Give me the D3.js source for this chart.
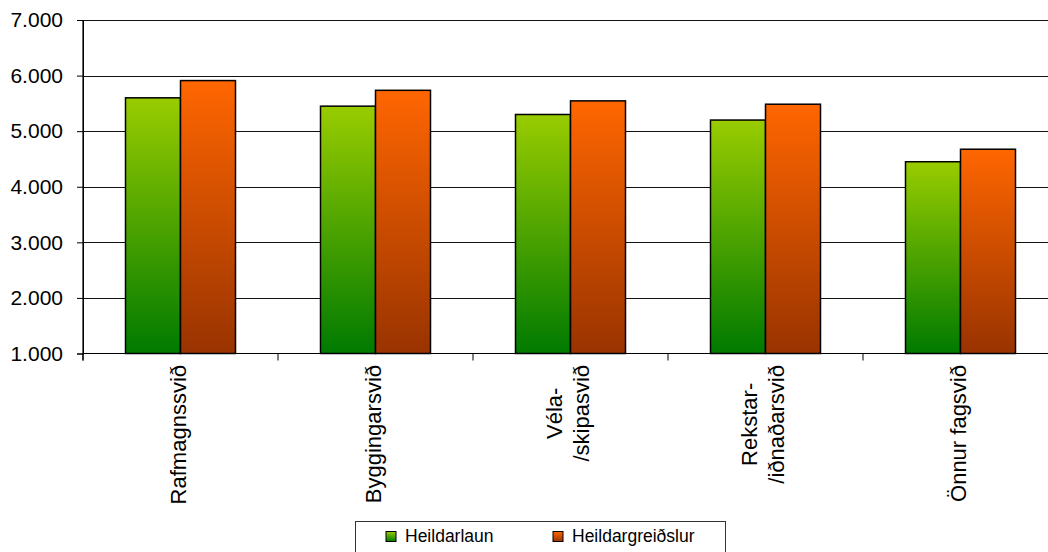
<!DOCTYPE html>
<html>
<head>
<meta charset="utf-8">
<script src="https://cdn.jsdelivr.net/npm/d3@7"></script>
<style>
  html, body { margin: 0; padding: 0; background: #fff; }
  svg { display: block; font-family: "Liberation Sans", Arial, sans-serif; }
</style>
</head>
<body>
<svg id="chart" width="1048" height="552"></svg>
<script>
// ---- data ----
const categories = [
  ["Rafmagnssvið"],
  ["Byggingarsvið"],
  ["Véla-", "/skipasvið"],
  ["Rekstar-", "/iðnaðarsvið"],
  ["Önnur fagsvið"]
];
const seriesNames = ["Heildarlaun", "Heildargreiðslur"];
const heildarlaun = [5600, 5450, 5300, 5200, 4450];
const heildargreidslur = [5910, 5735, 5545, 5485, 4675];
const yTicks = [1000, 2000, 3000, 4000, 5000, 6000, 7000];

(function () {
// ---- layout ----
const svg = d3.select("#chart");
const W = 1048, H = 552;
const pLeft = 83, pRight = 1058, pTop = 20, pBottom = 353.5;

const catKeys = categories.map((c, i) => i);
const x0 = d3.scaleBand().domain(catKeys).range([pLeft, pRight]).paddingInner(85/195).paddingOuter(85/195/2);
const x1 = d3.scaleBand().domain(seriesNames).range([0, x0.bandwidth()]);
const y = d3.scaleLinear().domain([1000, 7000]).range([pBottom, pTop]);

const loc = d3.formatLocale({decimal: ",", thousands: ".", grouping: [3], currency: ["", ""]});
const fmt = loc.format(",");

// gradients
const defs = svg.append("defs");
const grads = [
  {id: "gGreen", top: "#99CC00", bot: "#007A00"},
  {id: "gOrange", top: "#FF6600", bot: "#993300"}
];
grads.forEach(g => {
  const lg = defs.append("linearGradient").attr("id", g.id).attr("x1", 0).attr("y1", 0).attr("x2", 0).attr("y2", 1);
  lg.append("stop").attr("offset", "0%").attr("stop-color", g.top);
  lg.append("stop").attr("offset", "100%").attr("stop-color", g.bot);
});
const fills = {"Heildarlaun": "url(#gGreen)", "Heildargreiðslur": "url(#gOrange)"};

defs.append("clipPath").attr("id", "clipW").append("rect").attr("x", 0).attr("y", 0).attr("width", W).attr("height", H);

const root = svg.append("g").attr("clip-path", "url(#clipW)");

// gridlines
root.append("g").selectAll("line").data(yTicks.filter(t => t !== 1000)).join("line")
  .attr("x1", pLeft).attr("x2", pRight)
  .attr("y1", d => Math.round(y(d)) + 0.5).attr("y2", d => Math.round(y(d)) + 0.5)
  .attr("stroke", "#111").attr("stroke-width", 1).attr("shape-rendering", "crispEdges");

// y axis
const yAxis = d3.axisLeft(y).tickValues(yTicks).tickFormat(fmt).tickSize(6).tickPadding(14);
const gy = root.append("g").attr("transform", `translate(${pLeft},0)`).call(yAxis);
gy.select(".domain").attr("stroke", "#000");
gy.selectAll(".tick line").attr("stroke", "#000");
gy.selectAll(".tick text").attr("font-size", "21px").attr("fill", "#000")
  .attr("font-family", '"Liberation Sans", Arial, sans-serif');

// bars
const rows = categories.map((c, i) => ({i, vals: [heildarlaun[i], heildargreidslur[i]]}));
const groups = root.append("g").selectAll("g").data(rows).join("g")
  .attr("transform", d => `translate(${x0(d.i)},0)`);
groups.selectAll("rect").data(d => d.vals.map((v, k) => ({name: seriesNames[k], v}))).join("rect")
  .attr("x", d => x1(d.name))
  .attr("y", d => y(d.v))
  .attr("width", x1.bandwidth())
  .attr("height", d => y(1000) - y(d.v))
  .attr("fill", d => fills[d.name])
  .attr("stroke", "#000").attr("stroke-width", 1.5);

// x axis line and ticks at category boundaries
root.append("line").attr("x1", pLeft).attr("x2", pRight).attr("y1", pBottom).attr("y2", pBottom)
  .attr("stroke", "#000").attr("stroke-width", 1.2);
const step = x0.step();
const boundaries = d3.range(categories.length + 1).map(k => x0(0) - x0.paddingOuter() * step + k * step);
root.append("g").selectAll("line").data(boundaries).join("line")
  .attr("x1", d => d).attr("x2", d => d).attr("y1", pBottom).attr("y2", pBottom + 7)
  .attr("stroke", "#000").attr("stroke-width", 1);
root.append("line").attr("x1", pLeft).attr("x2", pLeft).attr("y1", pTop).attr("y2", pBottom + 7)
  .attr("stroke", "#000").attr("stroke-width", 1.2);

// category labels (rotated)
const labelTop = 365, lineH = 27;
rows.forEach(r => {
  const lines = categories[r.i];
  const cx = x0(r.i) + x0.bandwidth() / 2;
  const g = root.append("g").attr("transform", `translate(${cx},${labelTop}) rotate(-90)`);
  const texts = g.selectAll("text").data(lines).join("text")
    .attr("font-size", "22px").attr("fill", "#000")
    .attr("text-anchor", "middle")
    .attr("y", (d, k) => 5 + (k - (lines.length - 1) / 2) * lineH)
    .text(d => d);
  let maxLen = 0;
  texts.each(function() { maxLen = Math.max(maxLen, this.getComputedTextLength()); });
  texts.attr("x", -maxLen / 2);
});

// legend
const leg = svg.append("g");
leg.append("rect").attr("x", 355.5).attr("y", 521.5).attr("width", 370).attr("height", 40)
  .attr("fill", "#fff").attr("stroke", "#333").attr("stroke-width", 1);
const legX = [386, 553];
seriesNames.forEach((n, k) => {
  leg.append("rect").attr("x", legX[k]).attr("y", 531.5).attr("width", 10).attr("height", 10)
    .attr("fill", fills[n]).attr("stroke", "#000").attr("stroke-width", 1);
  leg.append("text").attr("x", legX[k] + 19).attr("y", 542)
    .attr("font-size", "17.5px").attr("fill", "#000").text(n);
});
})();
</script>
</body>
</html>
